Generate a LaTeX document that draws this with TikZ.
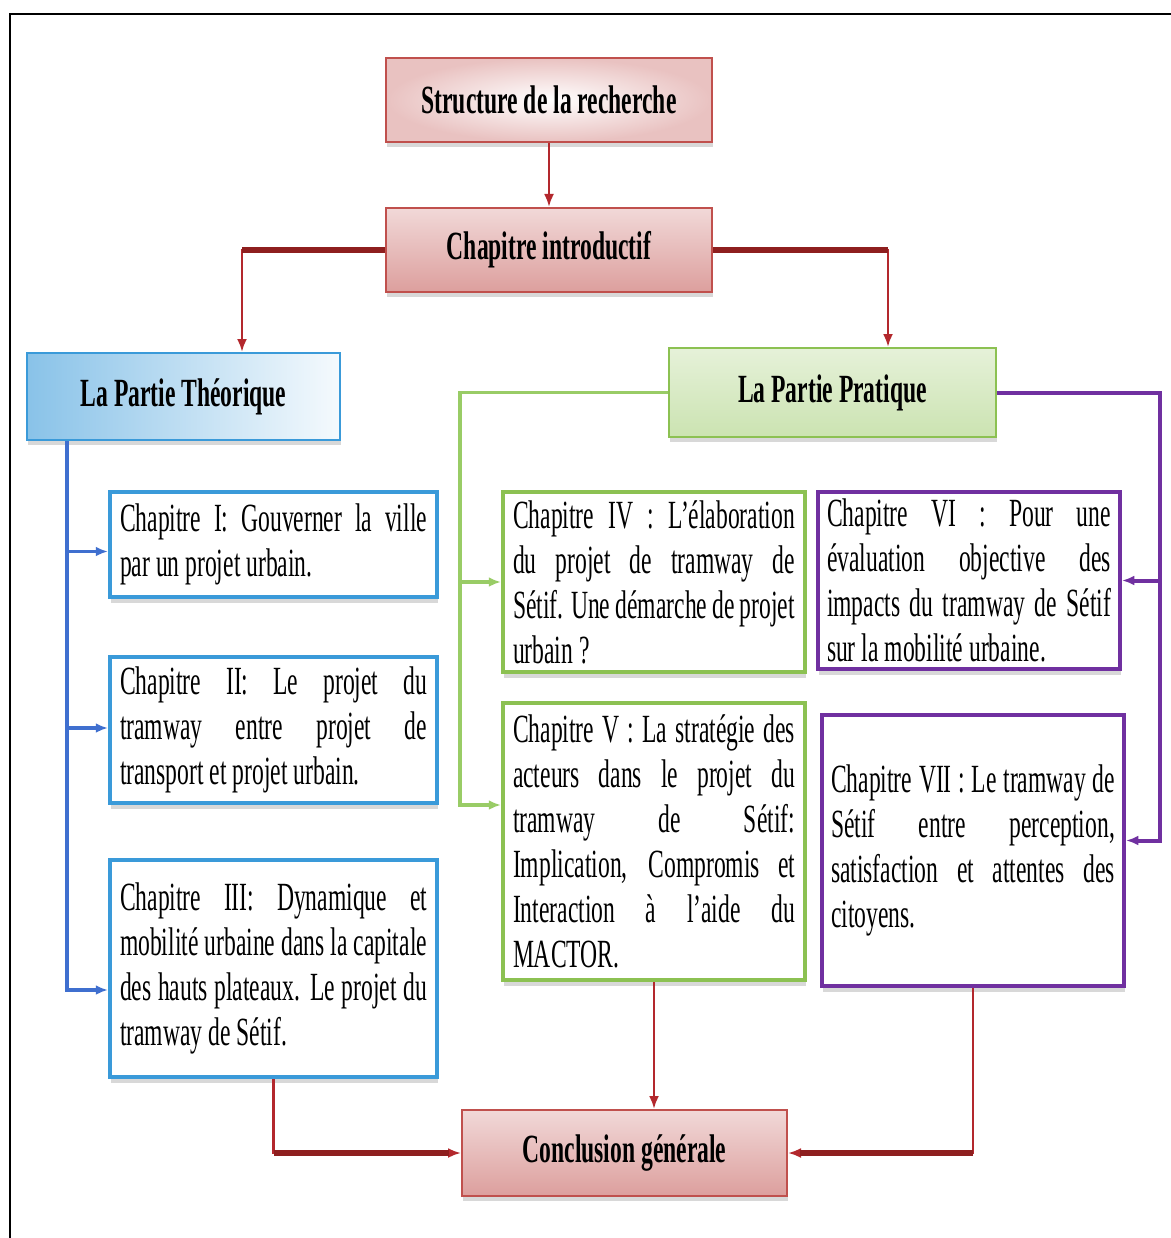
\documentclass[tikz,border=0pt]{standalone}
\usepackage{fontspec}
\setmainfont{Liberation Serif}[FakeStretch=0.59]
\usetikzlibrary{arrows.meta,shadows}
\definecolor{hdred}{HTML}{C0504D}
\definecolor{arrred}{HTML}{B3282D}
\definecolor{barred}{HTML}{8E1F1F}
\definecolor{chblue}{HTML}{3A9AD9}
\definecolor{lnblue}{HTML}{3F6FCF}
\definecolor{chgreen}{HTML}{8CC152}
\definecolor{lngreen}{HTML}{99CC66}
\definecolor{chpurple}{HTML}{7030A0}
\tikzset{
  headbox/.style={draw=hdred, line width=2pt, inner sep=0pt,
    font=\bfseries\fontsize{40}{45}\selectfont,
    drop shadow={shadow xshift=1pt, shadow yshift=-5pt, opacity=0.3}},
  chapbox/.style={fill=white, line width=4.5pt, inner xsep=10pt, inner ysep=2pt,
    align=justify, font=\fontsize{40}{45}\selectfont,
    drop shadow={shadow xshift=1pt, shadow yshift=-6pt, opacity=0.3}},
  redarrow/.style={draw=arrred, line width=2.5pt, -{Latex[length=13pt,width=10pt]}},
  redbar/.style={draw=barred, line width=5.5pt},
  bluearrow/.style={draw=lnblue, line width=3.5pt, -{Latex[length=12pt,width=10pt]}},
  greenarrow/.style={draw=lngreen, line width=3.5pt, -{Latex[length=12pt,width=10pt]}},
  purplearrow/.style={draw=chpurple, line width=4pt, -{Latex[length=12pt,width=10pt]}}
}
\begin{document}
\begin{tikzpicture}[x=1pt,y=-1pt]
\useasboundingbox (0,0) rectangle (1170,1238);
\fill[white] (0,0) rectangle (1170,1238);
\draw[black, line width=1.5pt] (10,1240) -- (10,14) -- (1172,14);

% heading boxes
\node[headbox, inner color=white, outer color=hdred!35, minimum width=326pt, minimum height=84pt] (struct) at (549,100) {Structure de la recherche};
\node[headbox, top color=hdred!22, bottom color=hdred!55, minimum width=326pt, minimum height=84pt] (intro) at (549,250) {Chapitre introductif};
\node[headbox, draw=chblue, left color=chblue!60, right color=chblue!5, minimum width=313pt, minimum height=87pt] (theo) at (183.5,396.5) {La Partie Théorique};
\node[headbox, draw=chgreen, top color=chgreen!22, bottom color=chgreen!45, minimum width=327pt, minimum height=89pt] (prat) at (832.5,392.5) {La Partie Pratique};
\node[headbox, top color=hdred!22, bottom color=hdred!55, minimum width=325pt, minimum height=86pt] (concl) at (624.5,1153) {Conclusion générale};

% chapter boxes
\node[chapbox, draw=chblue, text width=307pt, minimum height=105pt] (ch1) at (273.5,544.5)
  {Chapitre I: Gouverner la ville\linebreak par un projet urbain.};
\node[chapbox, draw=chblue, text width=307pt, minimum height=146pt] (ch2) at (273.5,730)
  {Chapitre II: Le projet du\linebreak tramway entre projet de\linebreak transport et projet urbain.};
\node[chapbox, draw=chblue, text width=307pt, minimum height=217pt] (ch3) at (273.5,968.5)
  {Chapitre III: Dynamique et\linebreak mobilité urbaine dans la capitale\linebreak des hauts plateaux. Le projet du\linebreak tramway de Sétif.};
\node[chapbox, draw=chgreen, text width=282pt, minimum height=180pt] (ch4) at (654,582)
  {Chapitre IV : L’élaboration\linebreak du projet de tramway de\linebreak Sétif. Une démarche de projet\linebreak urbain ?};
\node[chapbox, draw=chgreen, text width=282pt, minimum height=277pt] (ch5) at (654,841.5)
  {Chapitre V : La stratégie des\linebreak acteurs dans le projet du\linebreak tramway de Sétif:\linebreak Implication, Compromis et\linebreak Interaction à l’aide du\linebreak MACTOR.};
\node[chapbox, draw=chpurple, text width=284pt, inner xsep=9pt, minimum height=177pt] (ch6) at (969,580.5)
  {Chapitre VI : Pour une\linebreak évaluation objective des\linebreak impacts du tramway de Sétif\linebreak sur la mobilité urbaine.};
\node[chapbox, draw=chpurple, text width=284pt, inner xsep=9pt, minimum height=271pt] (ch7) at (973,850.5)
  {Chapitre VII : Le tramway de\linebreak Sétif entre perception,\linebreak satisfaction et attentes des\linebreak citoyens.};

% top red connectors
\draw[redarrow] (struct.south) -- (intro.north);
\coordinate (tIn) at ([xshift=58.5pt]theo.north);
\coordinate (pIn) at ([xshift=55.5pt]prat.north);
\draw[redarrow] (intro.west) -| (tIn);
\draw[redbar] (intro.west) -- (intro.west -| tIn);
\draw[redarrow] (intro.east) -| (pIn);
\draw[redbar] (intro.east) -- (intro.east -| pIn);

% blue connectors
\coordinate (bT) at ([xshift=-116.5pt]theo.south);
\draw[bluearrow] (bT) |- ([yshift=-7pt]ch1.west);
\draw[bluearrow] (bT) |- ([yshift=2pt]ch2.west);
\draw[bluearrow] (bT) |- ([yshift=-21.5pt]ch3.west);

% green connectors
\draw[greenarrow] (prat.west) -| ([xshift=-41pt,yshift=36.5pt]ch5.west) -- ([yshift=36.5pt]ch5.west);
\draw[greenarrow] ([xshift=-41pt]ch4.west) -- (ch4.west);

% purple connectors
\draw[purplearrow] (prat.east) -| ([xshift=34pt,yshift=10pt]ch7.east) -- ([yshift=10pt]ch7.east);
\draw[purplearrow] ([xshift=38pt]ch6.east) -- (ch6.east);

% bottom red connectors
\draw[redarrow] (ch3.south) |- (concl.west);
\draw[redbar, shorten >=12pt] (ch3.south |- concl.west) -- (concl.west);
\draw[redarrow] (ch5.south) -- (ch5.south |- concl.north);
\draw[redarrow] (ch7.south) |- (concl.east);
\draw[redbar, shorten >=12pt] (ch7.south |- concl.east) -- (concl.east);
\end{tikzpicture}
\end{document}
